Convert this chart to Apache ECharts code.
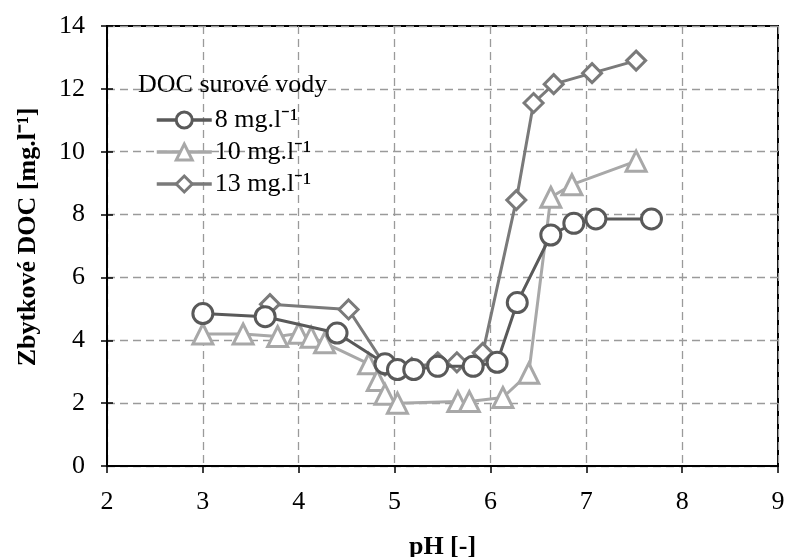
<!DOCTYPE html>
<html><head><meta charset="utf-8">
<script src="https://cdn.jsdelivr.net/npm/echarts@6/dist/echarts.min.js"></script>
<style>html,body{margin:0;padding:0;background:#fff}#c{width:794px;height:557px}</style>
</head><body><div id="c"></div>
<script>
const seriesNames = ['8 mg.l\u207B\u00B9', '10 mg.l\u207B\u00B9', '13 mg.l\u207B\u00B9'];
const legendTitle = 'DOC surové vody';
const xAxisName = 'pH [-]';
const yAxisName = 'Zbytkové DOC [mg.l\u207B\u00B9]';
const xTicks = [2, 3, 4, 5, 6, 7, 8, 9];
const yTicks = [0, 2, 4, 6, 8, 10, 12, 14];

const s8pH  = [3.0, 3.65, 4.4, 4.9, 5.03, 5.2, 5.45, 5.82, 6.07, 6.28, 6.63, 6.87, 7.1, 7.68];
const s8DOC = [4.85, 4.75, 4.23, 3.25, 3.07, 3.07, 3.17, 3.17, 3.3, 5.2, 7.35, 7.72, 7.86, 7.86];

const s10pH  = [3.0, 3.42, 3.78, 4.0, 4.13, 4.27, 4.73, 4.82, 4.9, 5.03, 5.66, 5.78, 6.13, 6.4, 6.63, 6.85, 7.52];
const s10DOC = [4.2, 4.2, 4.12, 4.22, 4.1, 3.92, 3.25, 2.72, 2.28, 2.0, 2.05, 2.05, 2.18, 2.95, 8.55, 8.95, 9.7];

const s13pH  = [3.7, 4.52, 4.9, 5.18, 5.45, 5.65, 5.92, 6.27, 6.45, 6.66, 7.06, 7.52];
const s13DOC = [5.15, 4.98, 3.2, 3.12, 3.3, 3.3, 3.6, 8.46, 11.55, 12.15, 12.5, 12.9];

const zip = (a, b) => a.map((v, i) => [v, b[i]]);
const FONT = '"Liberation Serif", "Times New Roman", serif';
const chart = echarts.init(document.getElementById('c'), null, {renderer: 'canvas'});

function mk(name, xs, ys, color, symbol, size, z) {
  return {
    name, type: 'line', data: zip(xs, ys), z,
    symbol, symbolSize: size,
    lineStyle: {color, width: 3},
    itemStyle: {color: '#fff', borderColor: color, borderWidth: 3},
    emphasis: {disabled: true}, animation: false
  };
}

chart.setOption({
  animation: false,
  backgroundColor: '#fff',
  title: {
    text: legendTitle, left: 133, top: 67,
    textStyle: {fontFamily: FONT, fontSize: 26, fontWeight: 'normal', color: '#000'}
  },
  legend: {
    orient: 'vertical', left: 150, top: 99,
    itemWidth: 55, itemHeight: 20, itemGap: 0,
    data: seriesNames,
    lineStyle: {width: 3.5},
    itemStyle: {borderWidth: 3},
    textStyle: {fontFamily: FONT, fontSize: 26, color: '#000', lineHeight: 32, padding: [0, 0, 0, -2]}
  },
  grid: {left: 107, right: 16, top: 26, bottom: 91, containLabel: false, outerBoundsMode: 'none',
         show: true, borderColor: '#000', borderWidth: 2, backgroundColor: 'transparent'},
  xAxis: [{
    type: 'value', min: xTicks[0], max: xTicks[xTicks.length - 1], interval: 1,
    name: xAxisName, nameLocation: 'middle', nameGap: 68,
    nameTextStyle: {fontFamily: FONT, fontSize: 26, fontWeight: 'bold', color: '#000'},
    axisLine: {lineStyle: {color: '#000', width: 2}},
    axisTick: {show: true, length: 7, lineStyle: {color: '#000', width: 1.5}},
    axisLabel: {fontFamily: FONT, fontSize: 26, color: '#000', margin: 23},
    splitLine: {show: true, lineStyle: {color: '#9a9a9a', width: 1.3, type: [8, 5]}}
  }],
  yAxis: [{
    type: 'value', min: yTicks[0], max: yTicks[yTicks.length - 1], interval: 2,
    name: yAxisName, nameLocation: 'middle', nameGap: 66, nameRotate: 90,
    nameTextStyle: {fontFamily: FONT, fontSize: 26, fontWeight: 'bold', color: '#000', padding: [0, 0, 0, 18]},
    axisLine: {lineStyle: {color: '#000', width: 2}},
    axisTick: {show: true, length: 6, lineStyle: {color: '#000', width: 1.5}},
    axisLabel: {fontFamily: FONT, fontSize: 26, color: '#000', margin: 22},
    splitLine: {show: true, lineStyle: {color: '#9a9a9a', width: 1.3, type: [8, 5]}}
  }, {
    type: 'value', min: yTicks[0], max: yTicks[yTicks.length - 1], interval: 2, position: 'left',
    axisLine: {show: false},
    axisTick: {show: true, inside: true, length: 6, lineStyle: {color: '#000', width: 1.5}},
    axisLabel: {show: false}, splitLine: {show: false}
  }],
  series: [
    mk(seriesNames[0], s8pH, s8DOC, '#595959', 'circle', 20, 4),
    mk(seriesNames[1], s10pH, s10DOC, '#a8a8a8', 'triangle', 20, 2),
    mk(seriesNames[2], s13pH, s13DOC, '#7a7a7a', 'diamond', 19, 3)
  ]
});
</script></body></html>
